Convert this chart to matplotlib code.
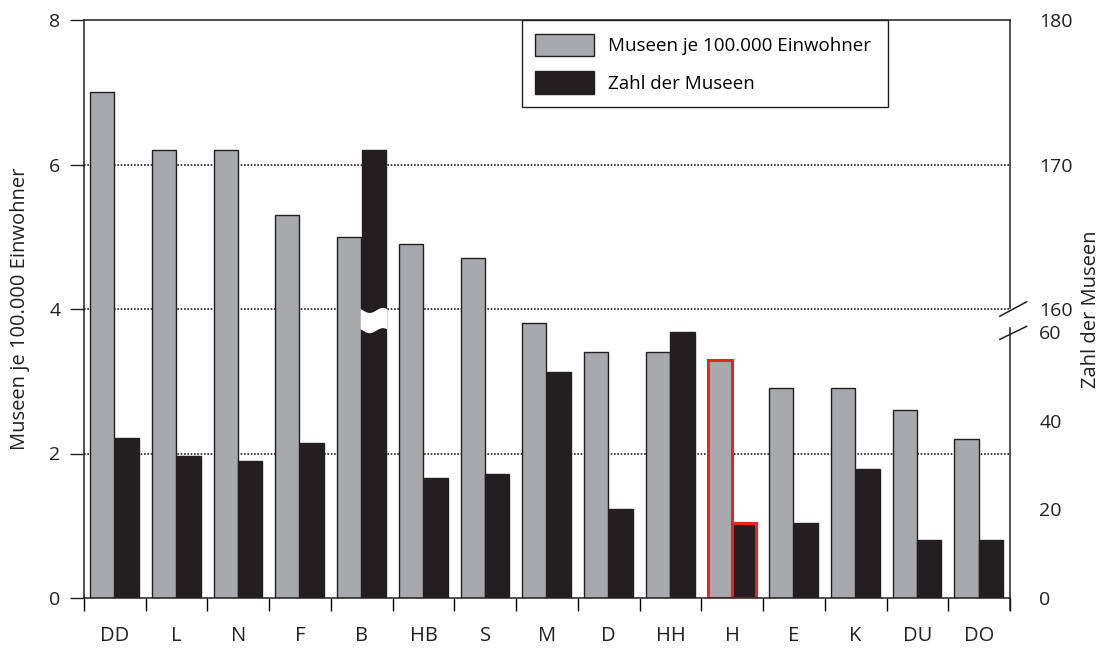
import numpy as np
import matplotlib.pyplot as plt
from matplotlib.patches import Patch, Polygon

plt.rcParams['font.family'] = ['Open Sans', 'DejaVu Sans']

# data
staedte = ['DD', 'L', 'N', 'F', 'B', 'HB', 'S', 'M', 'D', 'HH', 'H', 'E', 'K', 'DU', 'DO']
museen_je_100k = [7.0, 6.2, 6.2, 5.3, 5.0, 4.9, 4.7, 3.8, 3.4, 3.4, 3.3, 2.9, 2.9, 2.6, 2.2]
zahl_museen = [36, 32, 31, 35, 171, 27, 28, 51, 20, 60, 17, 17, 29, 13, 13]
right_ticks_low = [0, 20, 40, 60]
right_ticks_high = [160, 170, 180]
highlight = 'H'

gray = '#a7a9ac'
dark = '#231f20'
red = '#e8212a'


# broken right scale: 0..60 in the lower part, 160..180 in the upper part
def to_left(v):
    v = np.asarray(v, dtype=float)
    return np.where(v <= 60, v * 3.68 / 60, 4 + (v - 160) * 0.2)


fig = plt.figure(figsize=(11.01, 6.48), dpi=100)
ax = fig.add_axes([84 / 1101, 1 - 598 / 648, 926 / 1101, 578 / 648])

x = np.arange(len(staedte))
w = 0.39
ec = [red if s == highlight else dark for s in staedte]
lw = [2.2 if s == highlight else 1.0 for s in staedte]

ax.bar(x - 0.4, museen_je_100k, width=w, align='edge', color=gray,
       edgecolor=ec, linewidth=lw, zorder=2)
ax.bar(x, to_left(zahl_museen), width=w, align='edge', color=dark,
       edgecolor=ec, linewidth=lw, zorder=2)

# wavy gap in the bar that crosses the break
for i, v in enumerate(zahl_museen):
    if v > 60:
        xs = np.linspace(i - 0.02, i + w + 0.02, 30)
        t = np.linspace(0, 2 * np.pi, 30)
        top = 3.98 - 0.035 * np.sin(t - 0.6)
        bot = 3.70 - 0.035 * np.sin(t - 0.6)
        poly = np.column_stack([np.r_[xs, xs[::-1]], np.r_[top, bot[::-1]]])
        ax.add_patch(Polygon(poly, closed=True, facecolor='white',
                             edgecolor='none', zorder=3))

ax.set_xlim(-0.5, len(staedte) - 0.5)
ax.set_ylim(0, 8)

# dotted grid
for g in [2, 4, 6]:
    ax.axhline(g, color=dark, linestyle=(0, (1.0, 1.0)), linewidth=1.2, zorder=1)

ax.set_yticks([0, 2, 4, 6, 8])
ax.tick_params(axis='y', direction='out', length=10, width=1, pad=7,
               labelsize=14, colors=dark)
ax.set_xticks(np.arange(len(staedte) + 1) - 0.5)
ax.set_xticklabels([])
ax.set_xticks(x, minor=True)
ax.set_xticklabels(staedte, minor=True)
ax.tick_params(axis='x', which='major', direction='out', length=9.5, width=1)
ax.tick_params(axis='x', which='minor', length=0, pad=20, labelsize=14.5,
               colors=dark)
ax.set_ylabel('Museen je 100.000 Einwohner', fontsize=14.5, color=dark,
               labelpad=14)

for s in ['left', 'bottom', 'top']:
    ax.spines[s].set_linewidth(1.1)
    ax.spines[s].set_color(dark)
ax.spines['right'].set_visible(False)

# right axis with broken scale
ax2 = ax.twinx()
ax2.set_ylim(0, 8)
rt = right_ticks_low + right_ticks_high
ax2.set_yticks(to_left(rt))
ax2.set_yticklabels([str(v) for v in rt])
ax2.tick_params(axis='y', length=0, pad=21, labelsize=14, colors=dark)
for s in ax2.spines.values():
    s.set_visible(False)
ax2.set_ylabel('Zahl der Museen', fontsize=14.5, color=dark, labelpad=6)

tr = ax.get_yaxis_transform()
ax.plot([1, 1], [0, 3.74], color=dark, lw=1.1, transform=tr, clip_on=False, zorder=5)
ax.plot([1, 1], [4.01, 8], color=dark, lw=1.1, transform=tr, clip_on=False, zorder=5)
ax.plot([0.989, 1.018], [3.90, 4.10], color=dark, lw=1.1, transform=tr, clip_on=False, zorder=5)
ax.plot([0.989, 1.018], [3.58, 3.76], color=dark, lw=1.1, transform=tr, clip_on=False, zorder=5)
ax.plot([1, 1], [0, -0.17], color=dark, lw=1.1, transform=tr, clip_on=False, zorder=5)

handles = [Patch(facecolor=gray, edgecolor=dark, linewidth=1),
           Patch(facecolor=dark, edgecolor=dark, linewidth=1)]
leg = ax.legend(handles, ['Museen je 100.000 Einwohner', 'Zahl der Museen'],
                loc='upper left', bbox_to_anchor=(0.473, 1.0, 0.395, 0.0),
                mode='expand', fancybox=False, framealpha=1, edgecolor=dark,
                fontsize=13.5, handlelength=3.1, handleheight=1.5,
                borderpad=0.72, labelspacing=0.78, handletextpad=0.75,
                borderaxespad=0)
leg.get_frame().set_linewidth(1)
leg.set_zorder(6)

fig.savefig('out.png', dpi=100)
